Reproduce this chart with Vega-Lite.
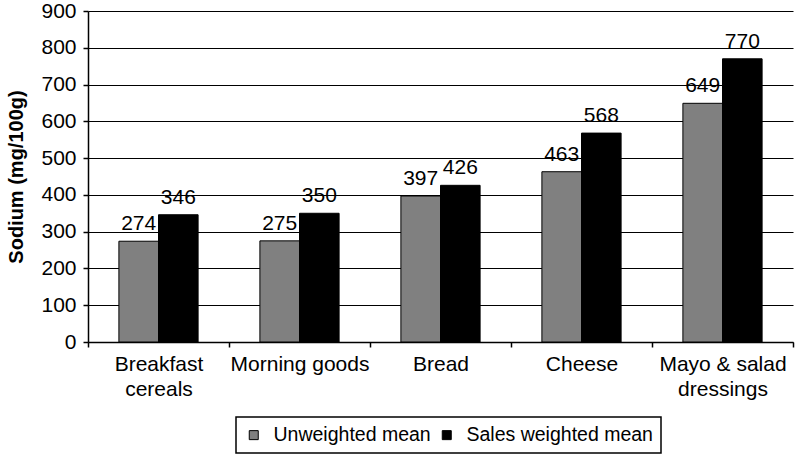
{
  "$schema": "https://vega.github.io/schema/vega-lite/v6.json",
  "width": 705,
  "height": 331,
  "autosize": "none",
  "padding": {"left": 88, "top": 11, "right": 4, "bottom": 112},
  "background": "white",
  "config": {
    "view": {"stroke": null},
    "font": "Liberation Sans",
    "axis": {"labelFont": "Liberation Sans", "titleFont": "Liberation Sans", "labelColor": "black", "titleColor": "black", "domainColor": "black", "tickColor": "black", "gridColor": "black", "domainWidth": 1.5, "tickWidth": 1.5}
  },
  "data": {
    "values": [
      {"cat": "Breakfast|cereals", "series": "Unweighted mean", "value": 274},
      {"cat": "Breakfast|cereals", "series": "Sales weighted mean", "value": 346},
      {"cat": "Morning goods", "series": "Unweighted mean", "value": 275},
      {"cat": "Morning goods", "series": "Sales weighted mean", "value": 350},
      {"cat": "Bread", "series": "Unweighted mean", "value": 397},
      {"cat": "Bread", "series": "Sales weighted mean", "value": 426},
      {"cat": "Cheese", "series": "Unweighted mean", "value": 463},
      {"cat": "Cheese", "series": "Sales weighted mean", "value": 568},
      {"cat": "Mayo & salad|dressings", "series": "Unweighted mean", "value": 649},
      {"cat": "Mayo & salad|dressings", "series": "Sales weighted mean", "value": 770}
    ]
  },
  "encoding": {
    "x": {
      "field": "cat", "type": "nominal", "sort": null,
      "scale": {"paddingInner": 0, "paddingOuter": 0},
      "axis": {"title": null, "labelAngle": 0, "labelFontSize": 21, "labelExpr": "split(datum.label, '|')", "labelLineHeight": 25, "tickBand": "extent", "tickSize": 5, "labelPadding": 6, "labelLimit": 0, "grid": false}
    },
    "xOffset": {
      "field": "series", "type": "nominal", "sort": ["Unweighted mean", "Sales weighted mean"],
      "scale": {"paddingInner": 0, "paddingOuter": 0.78}
    },
    "y": {
      "field": "value", "type": "quantitative",
      "scale": {"domain": [0, 900]},
      "axis": {"title": "Sodium (mg/100g)", "titleFontSize": 20, "titleFontWeight": "bold", "labelFontSize": 21, "values": [0,100,200,300,400,500,600,700,800,900], "tickSize": 5, "labelPadding": 7, "titlePadding": 14, "grid": true, "gridWidth": 1}
    }
  },
  "layer": [
    {
      "mark": {"type": "bar", "stroke": "black", "strokeWidth": 1},
      "encoding": {
        "color": {
          "field": "series", "type": "nominal",
          "scale": {"domain": ["Unweighted mean", "Sales weighted mean"], "range": ["#808080", "#000000"]},
          "legend": {
            "title": null, "orient": "none", "legendX": 148, "legendY": 406, "direction": "horizontal",
            "symbolType": "square", "symbolSize": 81, "symbolStrokeColor": "black", "symbolStrokeWidth": 1,
            "labelFontSize": 19.5, "labelFont": "Liberation Sans", "labelColor": "black", "labelOffset": 10, "labelLimit": 0,
            "columnPadding": 6, "padding": 8, "strokeColor": "black",
            "encode": {"legend": {"update": {"strokeWidth": {"value": 1.5}}}}
          }
        }
      }
    },
    {
      "mark": {"type": "text", "fontSize": 21, "baseline": "alphabetic", "dy": -11, "color": "black"},
      "encoding": {"text": {"field": "value", "type": "quantitative"}}
    }
  ]
}
